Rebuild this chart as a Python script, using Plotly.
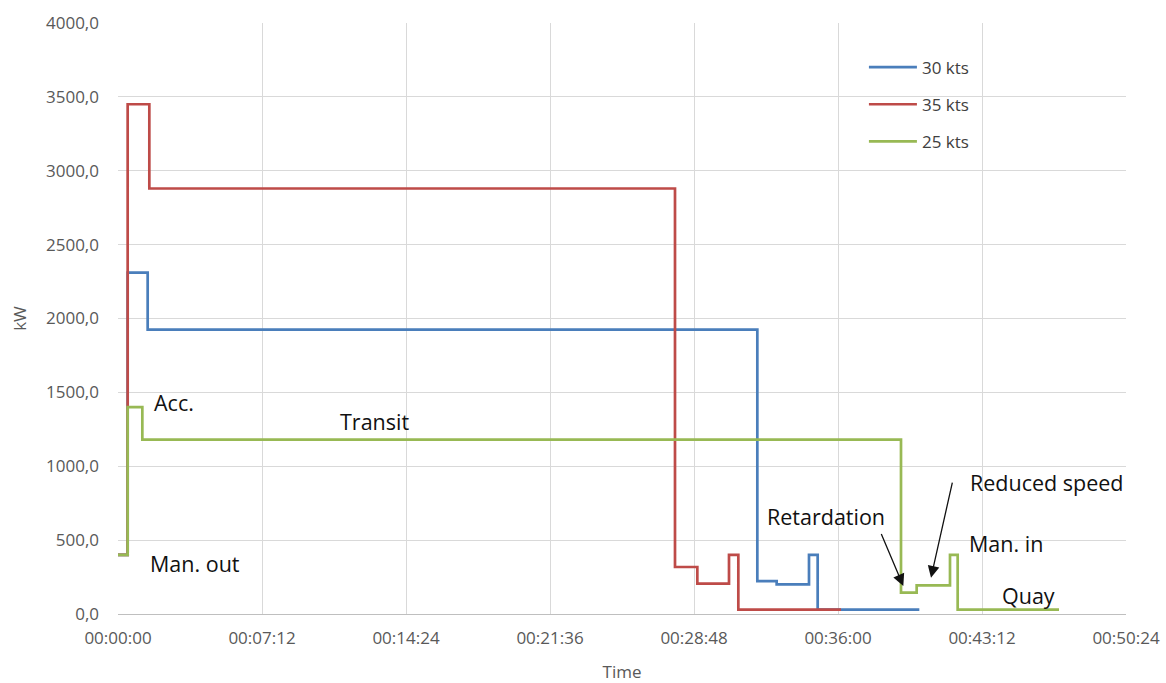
import plotly.graph_objects as go

# Power profile of a crossing, stepwise per operating phase (time in seconds)
t_30 = [0, 29, 89, 1918, 1976, 2073, 2099, 2404]
kw_30 = [400, 2310, 1925, 222, 200, 400, 30, 30]

t_35 = [0, 29, 94, 1671, 1738, 1833, 1861, 2169]
kw_35 = [400, 3450, 2880, 318, 205, 400, 30, 30]

t_25 = [0, 29, 73, 2349, 2396, 2496, 2519, 2823]
kw_25 = [400, 1400, 1180, 145, 194, 400, 30, 30]

series_names = ["30 kts", "35 kts", "25 kts"]
series_colors = ["#4a7ebb", "#be4b48", "#98b954"]

x_tick_vals = [0, 432, 864, 1296, 1728, 2160, 2592, 3024]
x_tick_text = ["00:00:00", "00:07:12", "00:14:24", "00:21:36",
               "00:28:48", "00:36:00", "00:43:12", "00:50:24"]

# Phase labels: (text, time, kW)
phase_labels = [
    ("Acc.", 102, 1433),
    ("Transit", 660, 1304),
    ("Man. out", 90, 343),
    ("Retardation", 1941, 660),
    ("Reduced speed", 2550, 891),
    ("Man. in", 2547, 478),
    ("Quay", 2646, 126),
]

# Pointer arrows: (tail time, tail kW, head time, head kW)
pointer_arrows = [
    (2288, 551, 2356, 190),
    (2504, 900, 2439, 246),
]

fig = go.Figure()
for i, (t, kw) in enumerate([(t_30, kw_30), (t_35, kw_35), (t_25, kw_25)]):
    fig.add_trace(go.Scatter(
        x=t, y=kw, mode="lines", name=series_names[i],
        line=dict(color=series_colors[i], width=2.7, shape="hv"),
        legendgroup=series_names[i],
    ))

label_font = dict(family="Open Sans, Lato, sans-serif", size=21.5, color="#111111")
for text, x, y in phase_labels:
    fig.add_annotation(x=x, y=y, text=text, showarrow=False,
                       xanchor="left", yanchor="middle", font=label_font)

for tx, ty, hx, hy in pointer_arrows:
    fig.add_annotation(x=hx, y=hy, ax=tx, ay=ty, axref="x", ayref="y",
                       text="", showarrow=True, arrowhead=2, arrowsize=1.8,
                       arrowwidth=1.3, arrowcolor="#111111")

tick_font = dict(family="Open Sans, Lato, sans-serif", size=17, color="#595959")

fig.update_layout(
    width=1166, height=683,
    margin=dict(l=118, r=40, t=23, b=69),
    plot_bgcolor="white", paper_bgcolor="white",
    separators=",.",
    showlegend=True,
    legend=dict(x=0.740, y=0.955, xanchor="left", yanchor="top",
                font=dict(family="Open Sans, Lato, sans-serif", size=17, color="#404040"),
                bgcolor="rgba(0,0,0,0)", tracegroupgap=12, traceorder="grouped",
                itemwidth=48),
    xaxis=dict(
        range=[0, 3024], tickvals=x_tick_vals, ticktext=x_tick_text,
        showgrid=True, gridcolor="#d9d9d9", gridwidth=1,
        zeroline=False, showline=True, linecolor="#bfbfbf", linewidth=1,
        tickfont=tick_font, ticklabelstandoff=9, automargin=False,
        title=dict(text="Time", font=tick_font, standoff=25),
    ),
    yaxis=dict(
        range=[0, 4000], dtick=500, tickformat=".1f",
        showgrid=True, gridcolor="#d9d9d9", gridwidth=1,
        zeroline=False, showline=False, automargin=False,
        tickfont=tick_font, ticklabelstandoff=18,
        title=dict(text="kW", font=tick_font, standoff=15),
    ),
)

fig.write_html("out.html")
